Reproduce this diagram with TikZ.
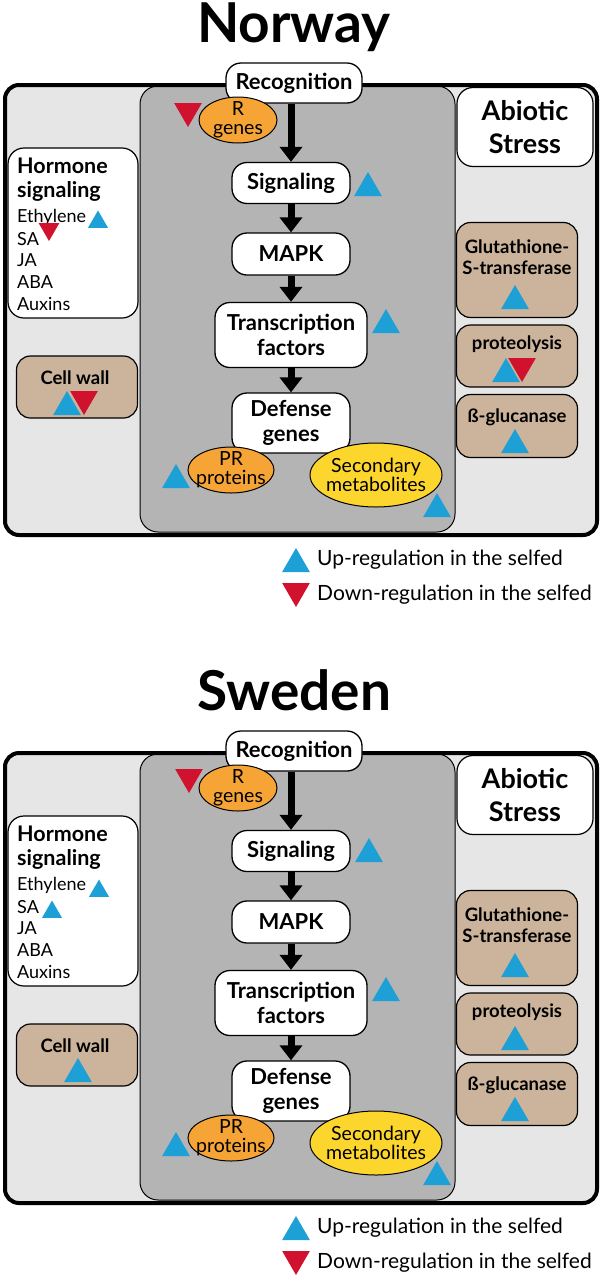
\documentclass[tikz,border=0pt]{standalone}
\usepackage{fontspec}
\setmainfont{Lato}
\usetikzlibrary{arrows.meta,positioning,shapes.geometric}

\definecolor{upblue}{RGB}{28,160,214}
\definecolor{downred}{RGB}{208,18,46}
\definecolor{rorange}{RGB}{246,164,54}
\definecolor{metyellow}{RGB}{252,214,44}
\definecolor{walltan}{RGB}{203,180,155}
\definecolor{lightbg}{RGB}{230,230,230}
\definecolor{darkbg}{RGB}{180,180,180}

\tikzset{
  panel/.style={draw=black, line width=4pt, rounded corners=14pt},
  core/.style={draw=black, line width=1pt, rounded corners=18pt, fill=darkbg},
  title/.style={font=\fontsize{55}{60}\selectfont\bfseries},
  stepbox/.style={draw, line width=1.3pt, fill=white, rounded corners=15pt, align=center,
    inner sep=0pt, font=\fontsize{22}{25}\selectfont\bfseries},
  whitebox/.style={draw, line width=1.2pt, fill=white, rounded corners=16pt, inner sep=0pt},
  tanbox/.style={draw, line width=1.2pt, fill=walltan, rounded corners=14pt, inner sep=0pt},
  tanlabel/.style={font=\fontsize{18.5}{21}\selectfont\bfseries, align=center},
  genes/.style={ellipse, draw, line width=1pt, inner sep=0pt},
  geneslabel/.style={align=center, inner sep=0pt, font=\fontsize{19.5}{19}\selectfont},
  hormone/.style={anchor=west, inner sep=0pt, font=\fontsize{18}{20}\selectfont},
  keytext/.style={anchor=west, inner sep=0pt, font=\fontsize{21}{24}\selectfont},
  flow/.style={line width=7pt, -{Triangle[width=22pt,length=15pt]}},
  upmark/.style={regular polygon, regular polygon sides=3, minimum size=32pt,
    inner sep=0pt, fill=upblue, yshift=-4pt},
  downmark/.style={regular polygon, regular polygon sides=3, shape border rotate=180,
    minimum size=32pt, inner sep=0pt, fill=downred, yshift=4pt},
  smallup/.style={upmark, minimum size=23pt, yshift=-3pt},
  smalldown/.style={downmark, minimum size=24pt, yshift=3pt}
}

\begin{document}
\begin{tikzpicture}[x=1pt, y=-1pt]
\useasboundingbox (0,0) rectangle (602,1280);

\foreach \oy/\cty in {0/Norway, 668/Sweden} {
\begin{scope}[shift={(0,\oy)}]
  % country
  \node[title, anchor=base] (title\cty) at (294,42) {\cty};

  % frames
  \fill[lightbg, rounded corners=14pt] (5,85) rectangle (597,535);
  \draw[core] (140,86) rectangle (455,532);
  \draw[panel] (5,85) rectangle (597,535);

  % defense pathway
  \node[stepbox, minimum width=136pt, minimum height=40pt] (rec\cty) at (294,83) {Recognition};
  \node[stepbox, minimum width=118pt, minimum height=41pt] (sig\cty) at (291,183) {Signaling};
  \node[stepbox, minimum width=118pt, minimum height=42pt] (mapk\cty) at (291,254) {MAPK};
  \node[stepbox, minimum width=152pt, minimum height=65pt] (tf\cty) at (291,335) {Transcription\\factors};
  \node[stepbox, minimum width=118pt, minimum height=60pt] (def\cty) at (291,423) {Defense\\genes};

  \draw[flow] (sig\cty.north |- rec\cty.south) -- (sig\cty.north);
  \draw[flow] (sig\cty) -- (mapk\cty);
  \draw[flow] (mapk\cty) -- (tf\cty);
  \draw[flow] (tf\cty) -- (def\cty);

  \node[genes, fill=rorange, minimum width=78pt, minimum height=46pt] (rgen\cty) at (238,120) {};
  \node[geneslabel] (rgentext\cty) at (rgen\cty) {R\\genes};
  \node[genes, fill=rorange, minimum width=86pt, minimum height=46pt] (pr\cty) at (231,470) {};
  \node[geneslabel] (prtext\cty) at (pr\cty) {PR\\proteins};
  \node[genes, fill=metyellow, minimum width=132pt, minimum height=64pt] (sec\cty) at (376,475) {};
  \node[geneslabel] (sectext\cty) at (sec\cty) {Secondary\\metabolites};

  % hormones
  \node[whitebox, minimum width=130pt, minimum height=170pt] (hs\cty) at (73,233) {};
  \node[anchor=west, inner sep=0pt, align=left, font=\fontsize{21.5}{24}\selectfont\bfseries]
    (hstitle\cty) at (17,180) {Hormone\\signaling};
  \foreach \t [count=\i from 0] in {Ethylene, SA, JA, ABA, Auxins}
    \node[hormone] (hor\cty\i) at (17,{217+21.7*\i}) {\t};

  \node[tanbox, minimum width=121pt, minimum height=62pt] (wall\cty) at (77,387) {};
  \node[tanlabel] (walltext\cty) at (75,378) {Cell wall};

  % abiotic stress
  \node[whitebox, align=center, minimum width=136pt, minimum height=79pt,
    font=\fontsize{27}{33}\selectfont\bfseries] (abio\cty) at (525,127) {Abiotic\\Stress};
  \node[tanbox, minimum width=121pt, minimum height=95pt] (gst\cty) at (517,270) {};
  \node[tanlabel] (gsttext\cty) at (517,257) {Glutathione-\\S-transferase};
  \node[tanbox, minimum width=121pt, minimum height=62pt] (prot\cty) at (517,356) {};
  \node[tanlabel] (prottext\cty) at (517,344) {proteolysis};
  \node[tanbox, minimum width=121pt, minimum height=63pt] (gluc\cty) at (517,426) {};
  \node[tanlabel] (gluctext\cty) at (517,417) {ß-glucanase};

  % key
  \node[upmark] (upkey\cty) at (296,560) {};
  \node[keytext] (uptext\cty) at (317,560) {Up-regulation in the selfed};
  \node[downmark] (dnkey\cty) at (296,595) {};
  \node[keytext] (dntext\cty) at (317,595) {Down-regulation in the selfed};
\end{scope}
}

% Norway
\foreach \x/\y [count=\i] in {368/184, 386/321, 176/476, 437/505, 67/403, 515/297, 506/370, 515/441}
  \node[upmark] (upN\i) at (\x,\y) {};
\foreach \x/\y [count=\i] in {188/115, 84/403, 522/370}
  \node[downmark] (dnN\i) at (\x,\y) {};
\node[smallup] (ethN) at (98,215) {};
\node[smalldown] (saN) at (49,236) {};

% Sweden
\begin{scope}[shift={(0,668)}]
  \foreach \x/\y [count=\i] in {369/182, 386/321, 176/476, 437/505, 78/402, 515/297, 515/370, 515/441}
    \node[upmark] (upS\i) at (\x,\y) {};
  \node[downmark] (dnS1) at (189,113) {};
  \node[smallup] (ethS) at (99,216) {};
  \node[smallup] (saS) at (52,237) {};
\end{scope}
\end{tikzpicture}
\end{document}
